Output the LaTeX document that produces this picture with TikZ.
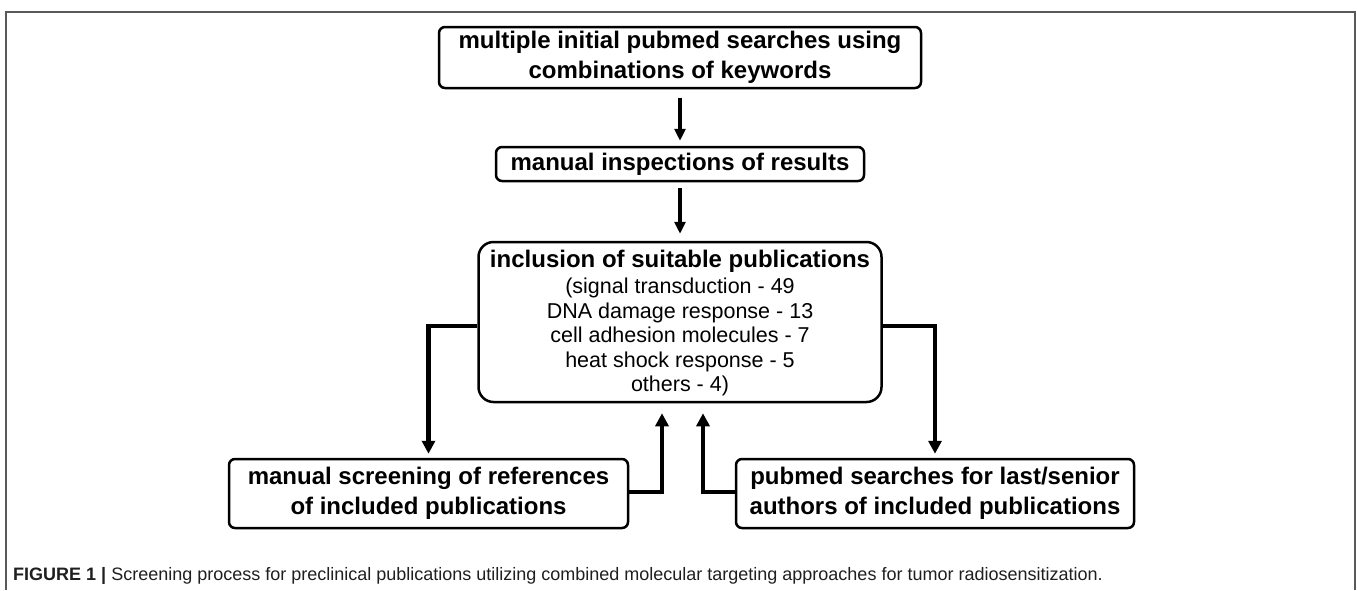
\documentclass[tikz,border=0pt]{standalone}
\usepackage{fontspec}
\setmainfont{Liberation Sans}
\usetikzlibrary{arrows.meta}
\definecolor{framecol}{gray}{0.35}
\definecolor{capcol}{gray}{0.12}
\begin{document}
\begin{tikzpicture}[x=1pt,y=-1pt,
  box/.style={draw, line width=2.5pt, rounded corners=6pt, inner sep=0pt, align=center,
    font=\bfseries\fontsize{24}{30}\selectfont},
  flow/.style={line width=3.3pt, -{Triangle[length=12pt,width=11pt]}},
  conn/.style={line width=4.6pt, line join=miter, -{Triangle[length=13pt,width=13pt]}}
]
\useasboundingbox (0,0) rectangle (1357,590);
\draw[framecol, line width=1.5pt] (6,590) -- (6,12) -- (1355,12) -- (1355,590);

\node[box, minimum width=482pt, minimum height=61pt] (top) at (680,57.5)
  {multiple initial pubmed searches using\\combinations of keywords};
\node[box, minimum width=368pt, minimum height=34pt] (insp) at (680,164)
  {manual inspections of results};
\node[box, rounded corners=15pt, minimum width=403pt, minimum height=160pt] (incl) at (680,322) {};
\node[font=\bfseries\fontsize{24}{30}\selectfont] (incltitle) at (680,261)
  {inclusion of suitable publications};
\node[align=center, font=\fontsize{21.5}{24.5}\selectfont] (incllist) at (680,337)
  {(signal transduction - 49\\DNA damage response - 13\\cell adhesion molecules - 7\\heat shock response - 5\\others - 4)};
\node[box, minimum width=399pt, minimum height=69pt] (refs) at (428.5,493.5)
  {manual screening of references\\of included publications};
\node[box, minimum width=398pt, minimum height=69pt] (auth) at (935,493.5)
  {pubmed searches for last/senior\\authors of included publications};

\draw[flow, shorten <=9pt, shorten >=5pt] (top) -- (insp);
\draw[flow, shorten <=6pt, shorten >=7pt] (insp) -- (incl);

\draw[conn, shorten >=4pt] ([yshift=-4pt]incl.west) -| (refs.north);
\draw[conn, shorten >=4pt] ([yshift=-4pt]incl.east) -| (auth.north);
\draw[conn, shorten >=10pt] ([yshift=1.5pt]refs.east) -| ([xshift=-18pt]incl.south);
\draw[conn, shorten >=10pt] ([yshift=1.5pt]auth.west) -| ([xshift=23pt]incl.south);

\node[anchor=west, text=capcol, font=\fontsize{18}{22}\selectfont, inner sep=0pt] (caption) at (13,576)
  {\textbf{FIGURE 1} \textbf{|} Screening process for preclinical publications utilizing combined molecular targeting approaches for tumor radiosensitization.};
\end{tikzpicture}
\end{document}
